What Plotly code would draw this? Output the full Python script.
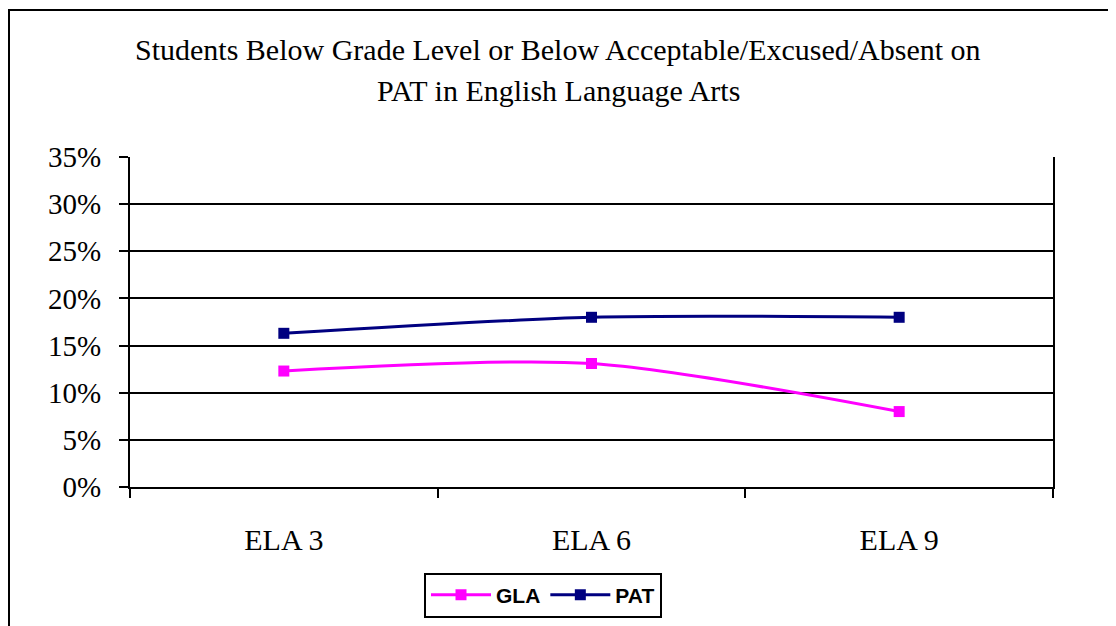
import plotly.graph_objects as go

categories = ['ELA 3', 'ELA 6', 'ELA 9']
gla = [0.123, 0.131, 0.080]
pat = [0.163, 0.180, 0.180]
y_ticks = [0, 0.05, 0.10, 0.15, 0.20, 0.25, 0.30, 0.35]
title_lines = ['Students Below Grade Level or Below Acceptable/Excused/Absent on',
               'PAT in English Language Arts']

# page body adds 8px offset, so coordinates below are figure pixels
W, H = 1116, 626
L, R, T, B = 122, 71, 149, 147
pw, ph = W - L - R, H - T - B

def px_x(x):
    return (x - L) / pw

def px_y(y):
    return (H - B - y) / ph

serif = 'Liberation Serif, Times New Roman, serif'

fig = go.Figure()

fig.add_trace(go.Scatter(
    x=categories, y=gla, name='GLA', mode='lines+markers',
    line=dict(color='#FF00FF', width=3, shape='spline', smoothing=0.8),
    marker=dict(symbol='square', size=11, color='#FF00FF')
))

fig.add_trace(go.Scatter(
    x=categories, y=pat, name='PAT', mode='lines+markers',
    line=dict(color='#000080', width=3, shape='spline', smoothing=0.8),
    marker=dict(symbol='square', size=11, color='#000080')
))

for i, line in enumerate(title_lines):
    fig.add_annotation(
        text=line, xref='paper', yref='paper',
        x=px_x(550), y=px_y(52 + 41 * i), xanchor='center', yanchor='bottom',
        yshift=-8, showarrow=False,
        font=dict(family=serif, size=30, color='black')
    )

# outer chart frame
fig.add_shape(type='rect', xref='paper', yref='paper',
              x0=px_x(1), x1=px_x(1140), y0=px_y(700), y1=px_y(2),
              line=dict(color='black', width=2), fillcolor='rgba(0,0,0,0)')

fig.update_layout(
    width=W, height=H,
    margin=dict(l=L, r=R, t=T, b=B),
    paper_bgcolor='white', plot_bgcolor='white',
    showlegend=True,
    legend=dict(
        orientation='h', x=px_x(535), y=px_y(587), xanchor='center', yanchor='middle',
        bordercolor='black', borderwidth=2, bgcolor='white',
        font=dict(family='Liberation Sans, Arial, sans-serif', size=21, color='black', weight='bold'),
        itemwidth=60, tracegroupgap=0
    ),
    xaxis=dict(
        type='category', range=[-0.5, 2.5], tickson='boundaries',
        ticks='outside', ticklen=9, tickwidth=2, tickcolor='black',
        showline=True, linecolor='black', linewidth=2, mirror=False,
        showgrid=False, ticklabelstandoff=25,
        tickfont=dict(family=serif, size=30, color='black')
    ),
    yaxis=dict(
        range=[0, 0.35], tickvals=y_ticks, tickformat='.0%',
        ticks='outside', ticklen=9, tickwidth=2, tickcolor='black',
        showline=True, linecolor='black', linewidth=2, mirror=True,
        showgrid=True, gridcolor='black', gridwidth=2, zeroline=False,
        ticklabelstandoff=12,
        tickfont=dict(family=serif, size=29, color='black')
    )
)

fig.write_html('out.html')
